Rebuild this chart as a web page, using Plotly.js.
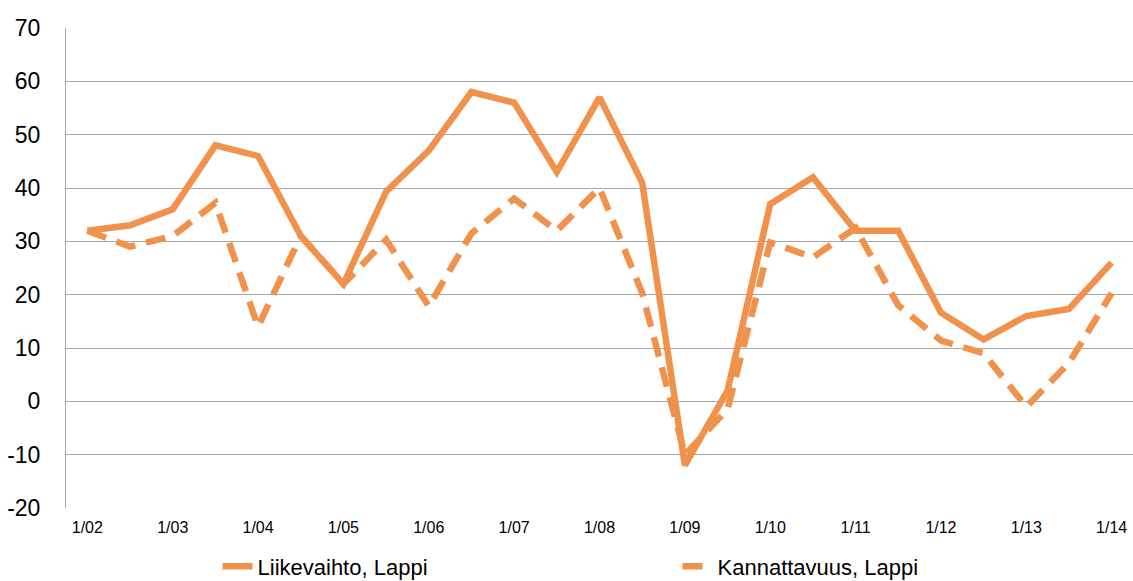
<!DOCTYPE html>
<html>
<head>
<meta charset="utf-8">
<script src="https://cdn.plot.ly/plotly-3.0.1.min.js"></script>
<style>
  html, body { margin: 0; padding: 0; background: #ffffff; }
  #chart { width: 1133px; height: 581px; }
</style>
</head>
<body>
<div id="chart"></div>
<script>
// Half-yearly periods
const periods = [
  "1/02","7/02","1/03","7/03","1/04","7/04","1/05","7/05","1/06","7/06",
  "1/07","7/07","1/08","7/08","1/09","7/09","1/10","7/10","1/11","7/11",
  "1/12","7/12","1/13","7/13","1/14"
];
const tickLabels = ["1/02","1/03","1/04","1/05","1/06","1/07","1/08","1/09","1/10","1/11","1/12","1/13","1/14"];

const liikevaihtoName = "Liikevaihto, Lappi";
const liikevaihto = [
  32, 33, 36, 48, 46, 31, 22, 39.3, 47, 58,
  56, 43, 57, 41, -12, 2, 37, 42, 32, 32,
  16.6, 11.6, 16, 17.3, 26
];

const kannattavuusName = "Kannattavuus, Lappi";
const kannattavuus = [
  32, 29, 31, 37.2, 14, 31, 22, 30.3, 17.8, 31.5,
  38, 32, 40, 20.3, -10, -1.5, 29.8, 27, 32.5, 18,
  11.4, 9, -1, 7.2, 20.3
];

const yTicks = [-20, -10, 0, 10, 20, 30, 40, 50, 60, 70];
const yTickText = ["-20", "-10", "0", "10", "20", "30", "40", "50", "60", "70"];

const orange = "#F0924B";

const traces = [
  {
    x: periods, y: liikevaihto, name: liikevaihtoName,
    type: "scatter", mode: "lines",
    line: { color: orange, width: 6.5 },
    hoverinfo: "skip"
  },
  {
    x: periods, y: kannattavuus, name: kannattavuusName,
    type: "scatter", mode: "lines",
    line: { color: orange, width: 6.5, dash: "20px,11px" },
    hoverinfo: "skip"
  }
];

const layout = {
  width: 1133, height: 581,
  margin: { l: 66, r: 0, t: 28, b: 73, autoexpand: false },
  paper_bgcolor: "#ffffff",
  plot_bgcolor: "#ffffff",
  font: { family: "Liberation Sans, Arial, sans-serif", color: "#000000" },
  xaxis: {
    type: "category",
    categoryorder: "array",
    categoryarray: periods,
    range: [-0.5, periods.length - 0.5],
    tickmode: "array",
    tickvals: tickLabels,
    ticktext: tickLabels,
    showgrid: false,
    zeroline: false,
    showline: false,
    ticks: "",
    automargin: false,
    tickfont: { size: 16, color: "#000000" },
    ticklabelstandoff: 8
  },
  yaxis: {
    range: [-20, 70],
    tickmode: "array",
    tickvals: yTicks,
    ticktext: yTickText,
    showgrid: true,
    gridcolor: "#A6A6A6",
    gridwidth: 1,
    zeroline: false,
    showline: true,
    linecolor: "#A6A6A6",
    linewidth: 1,
    ticks: "",
    automargin: false,
    tickfont: { size: 23, color: "#000000" },
    ticklabelstandoff: 20
  },
  showlegend: true,
  legend: {
    orientation: "h",
    x: 0.142, xanchor: "left",
    y: -0.078, yanchor: "top",
    font: { size: 22, color: "#000000" },
    entrywidth: 415,
    entrywidthmode: "pixels",
    bgcolor: "rgba(0,0,0,0)",
    traceorder: "normal"
  }
};

Plotly.newPlot("chart", traces, layout, { staticPlot: true, displayModeBar: false });
</script>
</body>
</html>
